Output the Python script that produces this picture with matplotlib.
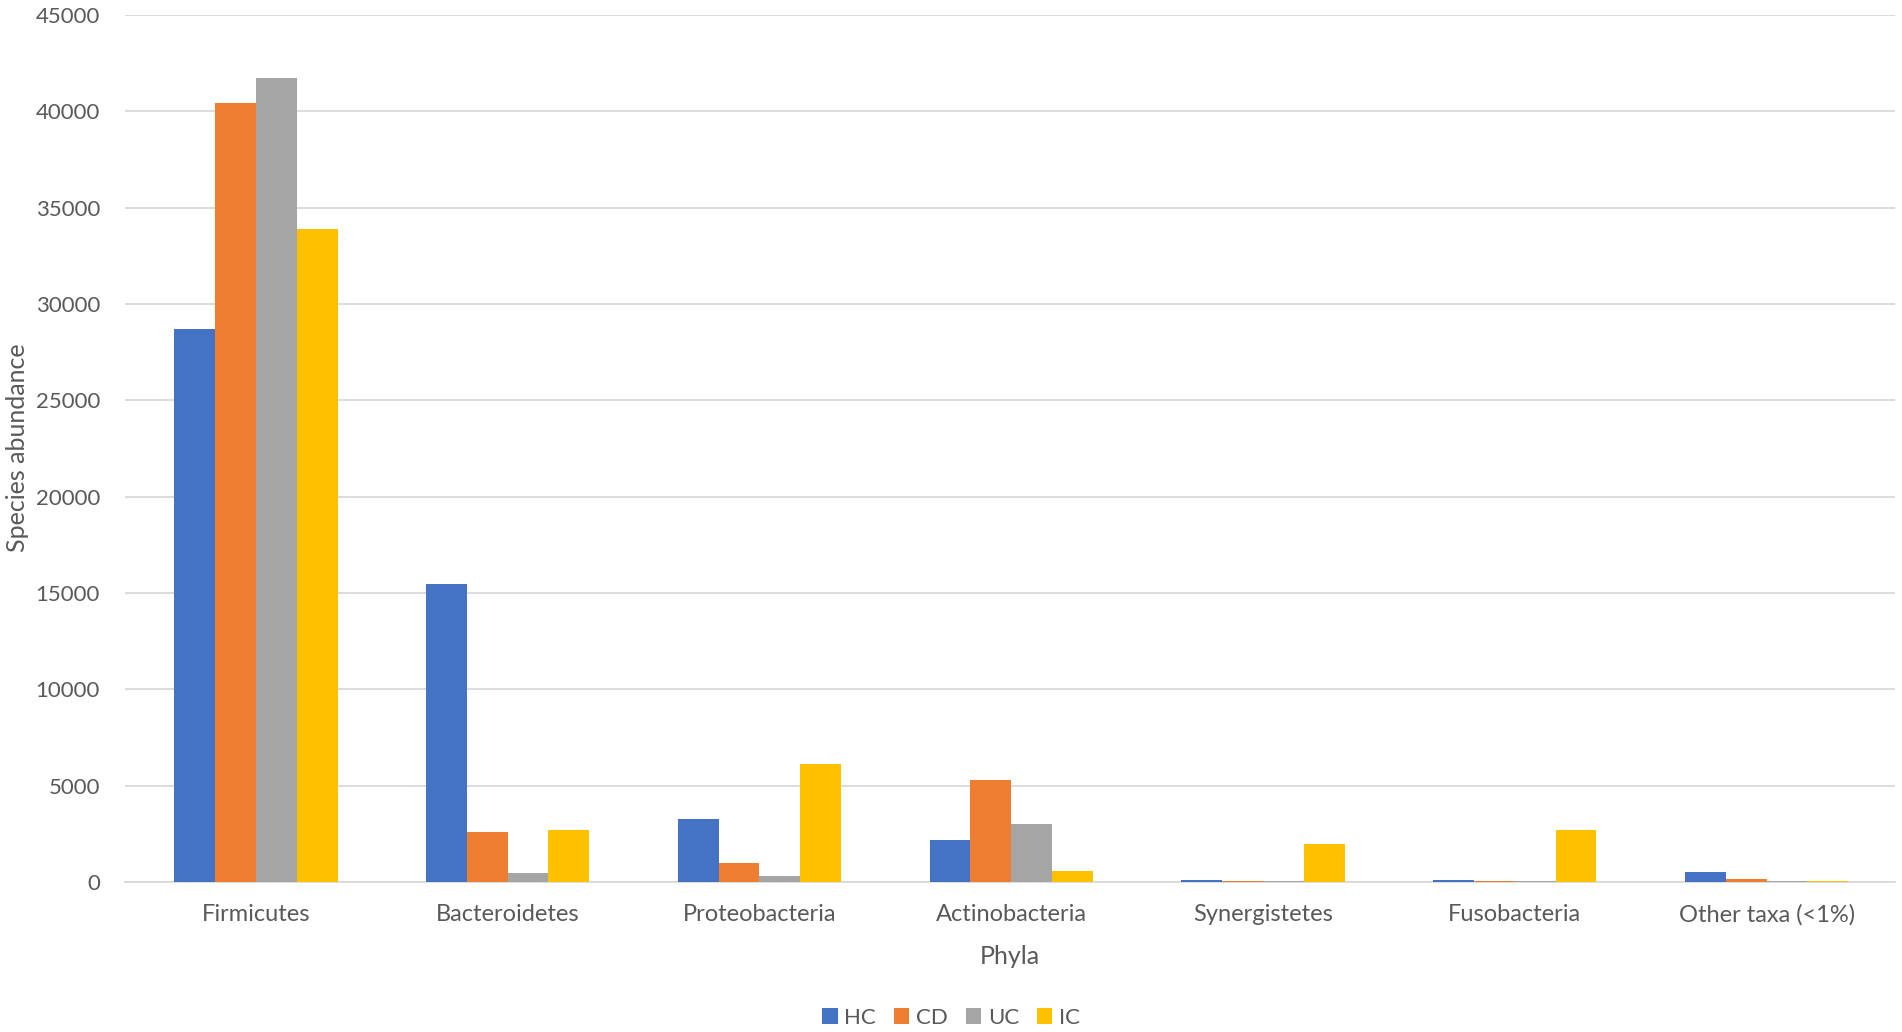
import numpy as np
import matplotlib
matplotlib.use("Agg")
import matplotlib.pyplot as plt

plt.rcParams['font.family'] = ['Lato', 'DejaVu Sans']

phyla = ['Firmicutes', 'Bacteroidetes', 'Proteobacteria', 'Actinobacteria',
         'Synergistetes', 'Fusobacteria', 'Other taxa (<1%)']
hc = [28700, 15480, 3250, 2200, 80, 80, 500]
cd = [40450, 2580, 1000, 5270, 60, 60, 180]
uc = [41750, 480, 320, 3010, 40, 40, 60]
ic = [33880, 2720, 6120, 560, 1950, 2720, 60]

series = {'HC': hc, 'CD': cd, 'UC': uc, 'IC': ic}
colors = ['#4472C4', '#ED7D31', '#A5A5A5', '#FFC000']

W, H = 1902, 1032
fig = plt.figure(figsize=(W / 100, H / 100), dpi=100)
ax = fig.add_axes([125/W, 1 - 882/H, (1895 - 125)/W, (882 - 15)/H])

x = np.arange(len(phyla))
w = 0.162
for i, (name, vals) in enumerate(series.items()):
    ax.bar(x + (i - 1.5) * w, vals, width=w, color=colors[i], label=name, zorder=3)

ax.set_xlim(-0.52, len(phyla) - 0.49)
ax.set_ylim(0, 45000)
ax.set_yticks(np.arange(0, 45001, 5000))
ax.grid(axis='y', color='#d9d9d9', linewidth=1.3, zorder=0)
for s in ['top', 'right', 'left']:
    ax.spines[s].set_visible(False)
ax.spines['bottom'].set_color('#d9d9d9')
ax.spines['bottom'].set_linewidth(1.3)
ax.tick_params(axis='both', length=0, colors='#595959')
ax.tick_params(axis='x', labelsize=17, pad=16)
ax.tick_params(axis='y', labelsize=16, pad=18)
ax.set_xticks(x)
ax.set_xticklabels(phyla)

ax.set_xlabel('Phyla', fontsize=18, color='#595959', labelpad=14)
fig.text(18/W, 1 - 448/H, 'Species abundance', rotation=90, fontsize=18,
         color='#595959', ha='center', va='center')

fig.legend(*ax.get_legend_handles_labels(), loc='center',
           bbox_to_anchor=(0.5, 1 - 1018/H), ncol=4, frameon=False,
           fontsize=16, labelcolor='#595959', handlelength=0.7, handleheight=0.7,
           handletextpad=0.3, columnspacing=0.8)

fig.savefig('out.png', dpi=100)
